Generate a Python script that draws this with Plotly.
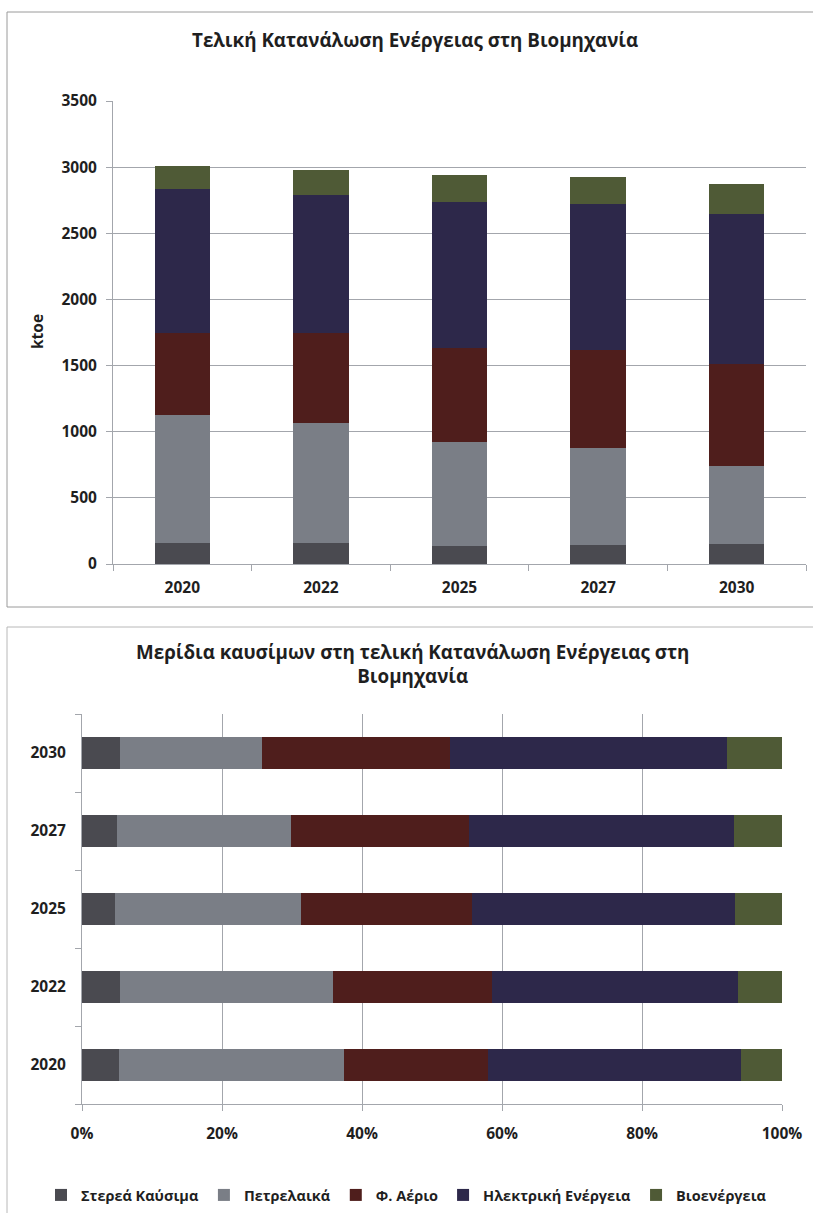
import plotly.graph_objects as go

W, H = 813, 1213

years = ["2020", "2022", "2025", "2027", "2030"]
series_names = ["Στερεά Καύσιμα", "Πετρελαικά", "Φ. Αέριο", "Ηλεκτρική Ενέργεια", "Βιοενέργεια"]
solid = [160, 161, 138, 146, 154]
petroleum = [964, 907, 782, 729, 585]
gas = [620, 676, 716, 743, 772]
electricity = [1089, 1047, 1102, 1105, 1138]
bioenergy = [175, 189, 199, 201, 225]
colors = ["#4a4a50", "#7a7e86", "#4f1e1c", "#2d284a", "#4f5a36"]

y_ticks = [0, 500, 1000, 1500, 2000, 2500, 3000, 3500]
pct_ticks = [0, 20, 40, 60, 80, 100]
pct_labels = ["0%", "20%", "40%", "60%", "80%", "100%"]

series = [solid, petroleum, gas, electricity, bioenergy]
totals = [sum(v) for v in zip(*series)]
shares = [[v / t * 100 for v, t in zip(s, totals)] for s in series]

def px(x):
    return x / W

def py(y):
    return 1 - y / H

FONT = "Open Sans"
TXT = "#1f1f1f"
GRID = "#a3a6ac"

fig = go.Figure()

for name, vals, col in zip(series_names, series, colors):
    fig.add_trace(go.Bar(
        x=years, y=vals, name=name, marker=dict(color=col, line=dict(width=0)),
        xaxis="x", yaxis="y", showlegend=False,
    ))

for name, vals, col in zip(series_names, shares, colors):
    fig.add_trace(go.Bar(
        y=years, x=vals, name=name, orientation="h",
        marker=dict(color=col, line=dict(width=0)),
        xaxis="x2", yaxis="y2", showlegend=True,
    ))

tickfont = dict(family=FONT, size=15.5, color=TXT, weight="bold")

fig.update_layout(
    width=W, height=H, autosize=False,
    margin=dict(l=0, r=0, t=0, b=0, pad=0, autoexpand=False),
    paper_bgcolor="white", plot_bgcolor="white",
    barmode="stack", bargap=0.6,
    font=dict(family=FONT, color=TXT),
    xaxis=dict(
        domain=[px(113), px(806)], anchor="y", automargin=False,
        type="category", showgrid=False,
        showline=True, linecolor=GRID, linewidth=1,
        ticks="outside", tickson="boundaries", ticklen=6, tickcolor=GRID,
        tickfont=tickfont, ticklabelstandoff=9,
    ),
    yaxis=dict(
        domain=[py(564), py(101)], anchor="x", automargin=False,
        range=[0, 3500], tickvals=y_ticks,
        showgrid=True, gridcolor=GRID, gridwidth=1,
        showline=True, linecolor=GRID, linewidth=1,
        ticks="outside", ticklen=6, tickcolor=GRID,
        tickfont=tickfont, zeroline=False, ticklabelstandoff=6,
    ),
    xaxis2=dict(
        domain=[px(82), px(782)], anchor="y2", automargin=False,
        range=[0, 100], tickmode="array", tickvals=pct_ticks, ticktext=pct_labels,
        showgrid=True, gridcolor=GRID, gridwidth=1,
        showline=True, linecolor=GRID, linewidth=1,
        ticks="outside", ticklen=6, tickcolor=GRID,
        tickfont=tickfont, ticklabelstandoff=9,
        zeroline=False,
    ),
    yaxis2=dict(
        domain=[py(1104), py(714)], anchor="x2", automargin=False,
        type="category", showgrid=False,
        showline=True, linecolor=GRID, linewidth=1,
        ticks="outside", tickson="boundaries", ticklen=6, tickcolor=GRID,
        tickfont=tickfont, ticklabelstandoff=12,
    ),
    legend=dict(
        orientation="h", x=0.5, xanchor="center", y=py(1195), yanchor="middle",
        traceorder="normal",
        font=dict(family=FONT, size=14.5, color=TXT, weight="bold"),
        itemwidth=30,
    ),
    showlegend=True,
)

fig.add_annotation(
    text="<b>Τελική Κατανάλωση Ενέργειας στη Βιομηχανία</b>",
    x=px(415), y=py(40), xref="paper", yref="paper", showarrow=False,
    font=dict(family=FONT, size=18.8, color=TXT), xanchor="center", yanchor="middle",
)
fig.add_annotation(
    text="<b>ktoe</b>", textangle=-90,
    x=px(37), y=py(332), xref="paper", yref="paper", showarrow=False,
    font=dict(family=FONT, size=15.5, color=TXT), xanchor="center", yanchor="middle",
)
fig.add_annotation(
    text="<b>Μερίδια καυσίμων στη τελική Κατανάλωση Ενέργειας στη<br>Βιομηχανία</b>",
    x=px(412), y=py(664), xref="paper", yref="paper", showarrow=False,
    font=dict(family=FONT, size=18.8, color=TXT), xanchor="center", yanchor="middle",
)

# panel frames (right/bottom edges run off the page in the reference)
frame_lines = [
    (7, 12, 813, 12, "#9a9a9a"),
    (7, 12, 7, 607, "#9a9a9a"),
    (7, 607, 813, 607, "#9a9a9a"),
    (7, 627, 813, 627, "#b8b8b8"),
    (7, 627, 7, 1213, "#b8b8b8"),
]
for x0, y0, x1, y1, c in frame_lines:
    fig.add_shape(type="line", xref="paper", yref="paper",
                  x0=px(x0), x1=px(x1), y0=py(y0), y1=py(y1),
                  line=dict(color=c, width=1), layer="below")

fig.write_html(
    "out.html",
    config={"displayModeBar": False, "responsive": False},
    post_script=(
        "document.documentElement.style.overflow='hidden';"
        "document.body.style.margin='0';"
        "document.body.style.overflow='hidden';"
    ),
)
